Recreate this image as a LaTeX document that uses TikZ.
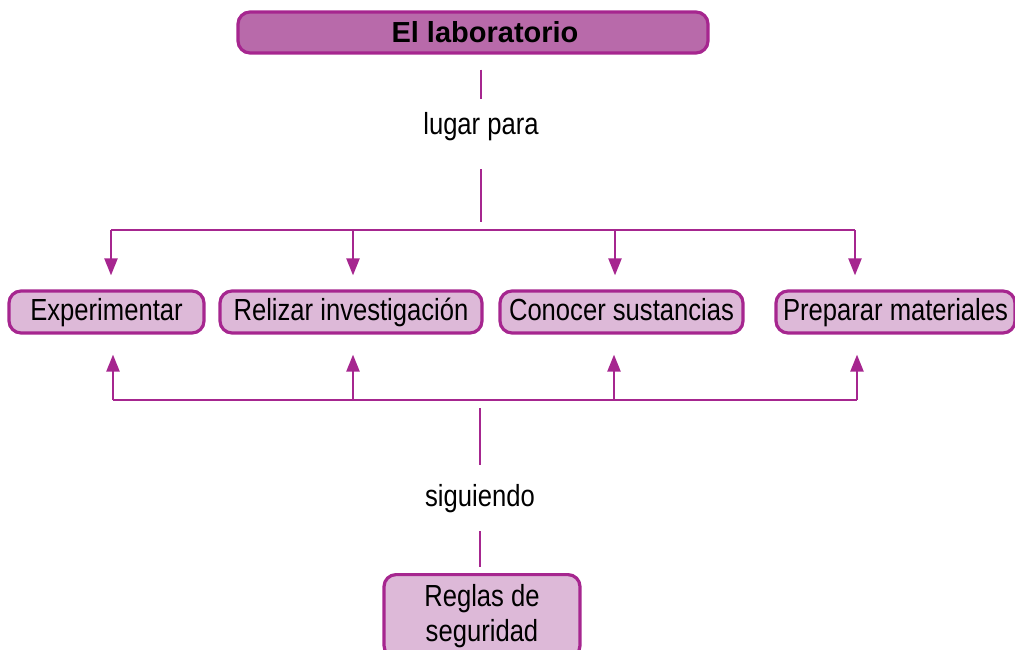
\documentclass[tikz,border=0pt]{standalone}
\usepackage{fontspec}
\setmainfont{Liberation Sans}
\newfontfamily\condfont[FakeStretch=0.84]{Liberation Sans}
\usetikzlibrary{arrows.meta}
\definecolor{lila}{RGB}{166,38,143}
\definecolor{lilafuerte}{RGB}{184,106,170}
\definecolor{lilaclaro}{RGB}{221,185,216}

\begin{document}
\begin{tikzpicture}[x=1pt, y=-1pt, line join=round,
  conn/.style={draw=lila, line width=2.3pt},
  arr/.style={conn, -{Triangle[length=17pt,width=13pt]}},
  box/.style={draw=lila, line width=3.2pt, fill=lilaclaro, rounded corners=12pt,
    inner sep=0pt, minimum height=42pt, text height=22pt, text depth=6pt,
    font=\condfont\fontsize{30.5}{35}\selectfont},
  titlebox/.style={box, fill=lilafuerte, minimum height=41pt, text height=21pt, text depth=0pt,
    font=\bfseries\fontsize{29}{35}\selectfont},
  etiqueta/.style={inner sep=0pt, text height=22pt, text depth=6pt,
    font=\condfont\fontsize{30.5}{35}\selectfont}]
\useasboundingbox (0,0) rectangle (1015,650);
% title and linking words
\node[titlebox, minimum width=470pt] (lab) at (473,32.5) {\hspace*{24pt}El laboratorio};
\node[etiqueta] (lug) at (481,127) {lugar para};
\node[etiqueta] (sig) at (480,498) {siguiendo};
% middle row
\node[box, minimum width=195pt] (exp) at (106.5,312) {Experimentar};
\node[box, minimum width=262pt] (inv) at (351,312) {Relizar investigación};
\node[box, minimum width=243pt] (sus) at (621.5,312) {Conocer sustancias};
\node[box, minimum width=239pt] (mat) at (895.5,312) {Preparar materiales};
% bottom
\node[box, anchor=north, minimum width=196pt, minimum height=83pt, align=center,
  text height=, text depth=] (reg) at (482,573) {Reglas de\\seguridad};
% buses
\coordinate (bt) at (481,230);
\coordinate (bb) at (480,400);
\foreach \n/\x in {exp/111, inv/353, sus/615, mat/855}
  \coordinate (d\n) at (\x,230);
\foreach \n/\x in {exp/113, inv/353, sus/614, mat/857}
  \coordinate (u\n) at (\x,400);
\draw[conn, shorten <=15pt, shorten >=14pt] (lug |- lab.south) -- (lug);
\draw[conn, shorten <=28pt, shorten >=8pt] (lug) -- (bt);
\draw[conn] (dexp) -- (dmat);
\foreach \n in {exp, inv, sus, mat}
  \draw[arr, shorten >=14pt] (d\n) -- (d\n |- \n.north);
\draw[conn] (uexp) -- (umat);
\foreach \n in {exp, inv, sus, mat}
  \draw[arr, shorten >=20pt] (u\n) -- (u\n |- \n.south);
\draw[conn, shorten <=8pt, shorten >=19pt] (bb) -- (sig);
\draw[conn, shorten <=19pt, shorten >=6pt] (sig) -- (sig |- reg.north);
\end{tikzpicture}
\end{document}
